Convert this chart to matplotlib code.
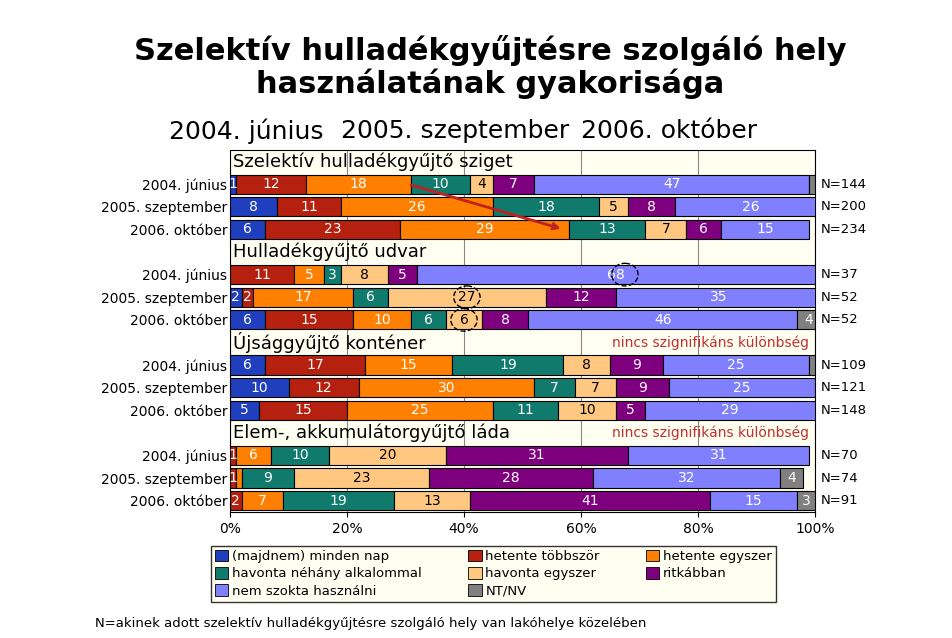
import matplotlib.pyplot as plt
from matplotlib.patches import Ellipse

categories = ["(majdnem) minden nap", "hetente többször", "hetente egyszer",
              "havonta néhány alkalommal", "havonta egyszer", "ritkábban",
              "nem szokta használni", "NT/NV"]
colors = ["#1F3FBF", "#B5200F", "#FF8000", "#107A6C", "#FFC77F", "#7F007F", "#8080FF", "#808080"]
text_colors = ["white", "white", "white", "white", "black", "white", "white", "white"]

sections = ["Szelektív hulladékgyűjtő sziget", "Hulladékgyűjtő udvar",
            "Újsággyűjtő konténer", "Elem-, akkumulátorgyűjtő láda"]
years = ["2004. június", "2005. szeptember", "2006. október"]

sziget = [[1, 12, 18, 10, 4, 7, 47, 1],
          [8, 11, 26, 18, 5, 8, 26, 0],
          [6, 23, 29, 13, 7, 6, 15, 0]]
udvar = [[0, 11, 5, 3, 8, 5, 68, 0],
         [2, 2, 17, 6, 27, 12, 35, 0],
         [6, 15, 10, 6, 6, 8, 46, 4]]
ujsag = [[6, 17, 15, 19, 8, 9, 25, 1],
         [10, 12, 30, 7, 7, 9, 25, 1],
         [5, 15, 25, 11, 10, 5, 29, 0]]
elem = [[0, 1, 6, 10, 20, 31, 31, 0],
        [0, 1, 1, 9, 23, 28, 32, 4],
        [0, 2, 7, 19, 13, 41, 15, 3]]
all_data = [sziget, udvar, ujsag, elem]
n_values = [["N=144", "N=200", "N=234"], ["N=37", "N=52", "N=52"],
            ["N=109", "N=121", "N=148"], ["N=70", "N=74", "N=91"]]
notes = ["", "", "nincs szignifikáns különbség", "nincs szignifikáns különbség"]

fig = plt.figure(figsize=(9.52, 6.38), dpi=100)
ax = fig.add_axes([0.2416, 0.1975, 0.6145, 0.567])
ax.set_facecolor("#FFFFF2")

ticks, ticklabels = [], []
for s, (name, data) in enumerate(zip(sections, all_data)):
    hy = s * 4
    ax.text(0.5, hy, name, fontsize=13, va="center", ha="left", zorder=5)
    if notes[s]:
        ax.text(99, hy, notes[s], fontsize=10, color="#C03030", va="center", ha="right", zorder=5)
    for r, row in enumerate(data):
        y = hy + 1 + r
        left = 0
        for i, v in enumerate(row):
            if v > 0:
                ax.barh(y, v, left=left, height=0.85, color=colors[i], edgecolor="black",
                        linewidth=0.8, zorder=3)
                if v >= 2 or i < 2:
                    ax.text(left + v / 2, y, str(v), ha="center", va="center",
                            fontsize=10, color=text_colors[i], zorder=4)
            left += v
        ax.text(101, y, n_values[s][r], fontsize=9.5, va="center", ha="left", clip_on=False)
        ticks.append(y)
        ticklabels.append(years[r])

# dashed circles around highlighted values
for (cx, cy) in [(67.5, 5), (40.5, 6), (40, 7)]:
    ax.add_patch(Ellipse((cx, cy), 4.5, 1.0, fill=False, ls="--", ec="black", lw=1, zorder=6))
# red arrow
ax.annotate("", xy=(57, 3), xytext=(30.5, 1),
            arrowprops=dict(arrowstyle="->", color="#C02020", lw=2), zorder=7)

ax.set_xlim(0, 100)
ax.set_ylim(15.5, -0.5)
ax.set_yticks(ticks)
ax.set_yticklabels(ticklabels, fontsize=10)
ax.tick_params(axis="y", length=0, pad=2)
ax.set_xticks(range(0, 101, 20))
ax.set_xticklabels([f"{t}%" for t in range(0, 101, 20)], fontsize=10)
ax.xaxis.grid(True, color="#888888", lw=0.8, zorder=0)

handles = [plt.Rectangle((0, 0), 1, 1, fc=c, ec="black", lw=0.6) for c in colors]
order = [0, 3, 6, 1, 4, 7, 2, 5]
leg = fig.legend([handles[i] for i in order], [categories[i] for i in order], ncol=3,
                 loc="upper left", bbox_to_anchor=(0.215, 0.155), fontsize=9.5,
                 frameon=True, fancybox=False, edgecolor="black", facecolor="#FFFFEE",
                 handlelength=1, handleheight=1, borderpad=0.3, labelspacing=0.3,
                 columnspacing=3.5, handletextpad=0.3)

fig.text(0.515, 0.895, "Szelektív hulladékgyűjtésre szolgáló hely\nhasználatának gyakorisága",
         ha="center", va="center", fontsize=22, fontweight="bold", linespacing=1.1)
fig.text(0.178, 0.795, "2004. június", fontsize=18, ha="left", va="center")
fig.text(0.358, 0.795, "2005. szeptember", fontsize=18, ha="left", va="center")
fig.text(0.61, 0.795, "2006. október", fontsize=18, ha="left", va="center")
fig.text(0.1, 0.018, "N=akinek adott szelektív hulladékgyűjtésre szolgáló hely van lakóhelye közelében",
         fontsize=9.5, ha="left")

fig.savefig("out.png", dpi=100)
